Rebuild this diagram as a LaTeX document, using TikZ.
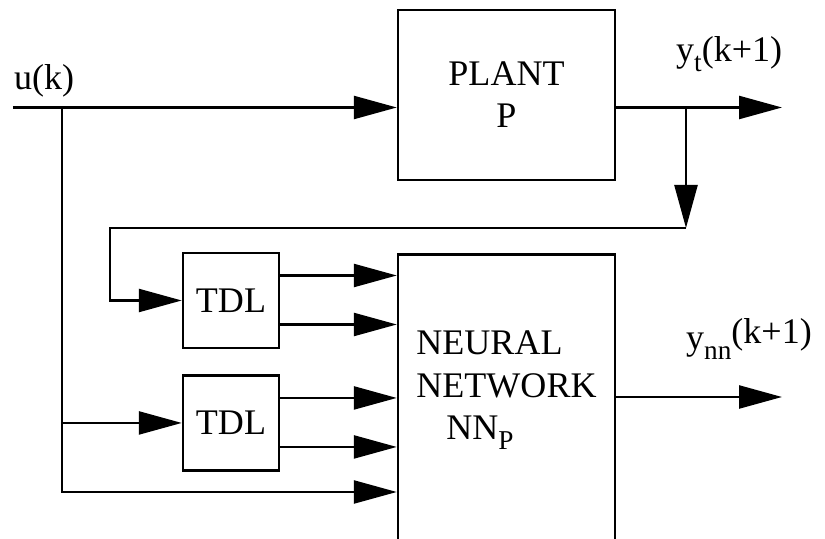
\documentclass[tikz,border=0pt]{standalone}
\usepackage{fontspec}
\setmainfont{Liberation Serif}
\usetikzlibrary{positioning, arrows.meta}

\newcommand{\lowsub}[1]{\raisebox{-0.2cm}{\fontsize{15.5}{16}\selectfont #1}}

\begin{document}
\begin{tikzpicture}[
    line width = 1.4pt,
    font = \fontsize{20.5}{24}\selectfont,
    %% ── node styles ──────────────────────────────────────────
    blk/.style  = {draw, minimum width=4.34cm, minimum height=3.4cm, align=center},
    tdl/.style  = {draw, minimum width=1.92cm, minimum height=1.9cm},
    lbl/.style  = {inner sep=0pt},
    arr/.style  = {-{Triangle[length=0.86cm, width=0.46cm]}}
]
\path[use as bounding box, clip] (0,0) rectangle (16.5,-10.78);

%% ── Blocks ───────────────────────────────────────────────────
\node[blk] (plant) at (10.13,-1.9) {PLANT\\P};
\node[blk, minimum height=6cm, below=1.44cm of plant] (nn) {};
\node[lbl, align=left] (nntxt) at ([yshift=-2.74cm]nn.north)
    {NEURAL\\NETWORK\\\hspace{0.6cm}NN\lowsub{P}};
\node[tdl] (tdl1) at (4.62,-6.01) {TDL};
\node[tdl, below=0.5cm of tdl1] (tdl2) {TDL};

%% ── Signal points ────────────────────────────────────────────
\coordinate (u)    at (0.26,-2.15);
\coordinate (ubr)  at (1.24,-2.15);
\coordinate (ubot) at (1.24,-9.84);
\coordinate (yt)   at (15.64,-2.15);
\coordinate (fb)   at (13.72,-2.15);
\coordinate (fbr)  at (13.72,-4.56);
\coordinate (fbl)  at (2.2,-4.56);
\coordinate (ynn)  at (15.64,-7.94);

%% ── Labels ───────────────────────────────────────────────────
\node[lbl, anchor=base west] (ulbl)   at (0.26,-1.8) {u(k)};
\node[lbl, anchor=base west] (ytlbl)  at (13.5,-1.24) {y\lowsub{t}(k+1)};
\node[lbl, anchor=base west] (ynnlbl) at (13.7,-7.0)
    {y\lowsub{nn}\raisebox{0.12cm}{(k+1)}};

%% ── Arrows: plant ────────────────────────────────────────────
\draw[arr] (u) -- (u -| plant.west);
\draw[arr] (plant.east |- yt) -- (yt);

%% ── Arrows: feedback and input taps ──────────────────────────
\draw[arr] (fb) -- (fbr);
\draw[arr] (fbr) -- (fbl) |- (tdl1.west);
\draw[arr] (ubr) |- (tdl2.west);
\draw[arr] (ubr) -- (ubot) -- (ubot -| nn.west);

%% ── Arrows: into and out of the network ──────────────────────
\foreach \t in {tdl1, tdl2}
  \foreach \dy in {0.5, -0.48}
    \draw[arr] ([yshift=\dy cm]\t.east) -- ([yshift=\dy cm]\t.east -| nn.west);
\draw[arr] (nn.east |- ynn) -- (ynn);

\end{tikzpicture}
\end{document}
